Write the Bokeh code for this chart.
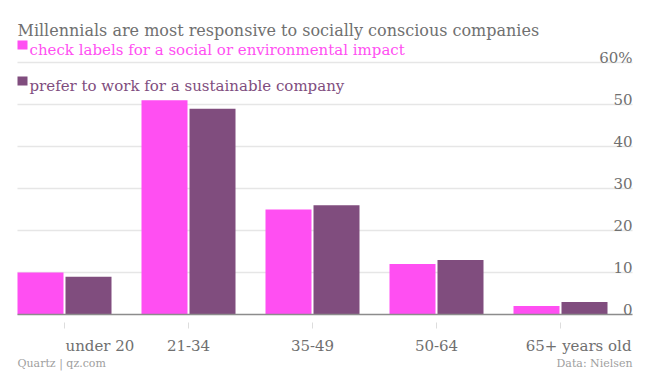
from bokeh.plotting import figure
from bokeh.models import Range1d
from bokeh.core.properties import value
from bokeh.embed import file_html
from bokeh.resources import INLINE

# ---- data ----
categories = ["under 20", "21-34", "35-49", "50-64", "65+ years old"]
check_labels = [10, 51, 25, 12, 2]
prefer_sustainable = [9, 49, 26, 13, 3]
y_ticks = [0, 10, 20, 30, 40, 50, 60]
y_tick_labels = ["0", "10", "20", "30", "40", "50", "60%"]
title = "Millennials are most responsive to socially conscious companies"
series_names = ["check labels for a social or environmental impact",
                "prefer to work for a sustainable company"]
source_left = "Quartz | qz.com"
source_right = "Data: Nielsen"

PINK = "#ff4ff2"
PURPLE = "#804d7e"
FONT = value("DejaVu Serif")

# ---- layout (page pixels -> data coords) ----
W, H = 650, 372
ORIGIN = 0          # page offset of the figure as photographed
CAT_PX = 124.0      # pixels per category
X0_PX = 64.0        # page x of first category centre
Y0_PX = 314.0       # page y of zero
UNIT_PX = 4.2       # pixels per percentage point


def sx(px):
    return (px - X0_PX) / CAT_PX


def sy(py):
    return (Y0_PX - py) / UNIT_PX


p = figure(width=W, height=H, output_backend="svg", toolbar_location=None,
           x_range=Range1d(sx(ORIGIN), sx(ORIGIN + W)),
           y_range=Range1d(sy(ORIGIN + H), sy(ORIGIN)),
           min_border=0, x_axis_location=None, y_axis_location=None)
p.outline_line_color = None
p.xgrid.visible = False
p.ygrid.visible = False
p.background_fill_color = "white"
p.border_fill_color = "white"

idx = list(range(len(categories)))
bar_w = 46 / CAT_PX
off = 24 / CAT_PX

# gridlines
grid_vals = [v for v in y_ticks if v != 0]
p.segment(x0=[sx(17)] * len(grid_vals), x1=[sx(632)] * len(grid_vals),
          y0=grid_vals, y1=grid_vals, line_color="#e6e6e6", line_width=1.5)

# bars
p.vbar(x=[i - off for i in idx], top=check_labels, bottom=0, width=bar_w,
       fill_color=PINK, line_color=None)
p.vbar(x=[i + off for i in idx], top=prefer_sustainable, bottom=0, width=bar_w,
       fill_color=PURPLE, line_color=None)

# zero line
p.segment(x0=[sx(17)], x1=[sx(632)], y0=[0], y1=[0], line_color="#8c8c8c", line_width=1.5)

# x tick marks
p.segment(x0=idx, x1=idx, y0=[sy(322)] * len(idx), y1=[sy(328)] * len(idx),
          line_color="#dddddd", line_width=1)

# y tick labels
p.text(x=[sx(632)] * len(y_ticks), y=[v + 5 / UNIT_PX for v in y_ticks], text=y_tick_labels,
       text_font=FONT, text_font_size="15px", text_color="#707070",
       text_align="right", text_baseline="alphabetic")

# x labels
n = len(categories)
aligns = ["left"] + ["center"] * (n - 2) + ["right"]
xs = [sx(65)] + [float(i) for i in idx[1:-1]] + [sx(631)]
for x, t, a in zip(xs, categories, aligns):
    p.text(x=[x], y=[sy(345)], text=[t], text_font=FONT, text_font_size="15px",
           text_color="#707070", text_align=a, text_baseline="alphabetic")

# title
p.text(x=[sx(17)], y=[sy(30)], text=[title], text_font=FONT, text_font_size="16px",
       text_color="#707070", text_align="left", text_baseline="alphabetic")

# legend
p.quad(left=[sx(17), sx(17)], right=[sx(27), sx(27)], top=[sy(40), sy(76)],
       bottom=[sy(49), sy(85)], fill_color=[PINK, PURPLE], line_color=None)
p.text(x=[sx(29)], y=[sy(49)], text=[series_names[0]], text_font=FONT, text_font_size="15px",
       text_color=PINK, text_align="left", text_baseline="alphabetic")
p.text(x=[sx(29)], y=[sy(85)], text=[series_names[1]], text_font=FONT, text_font_size="15px",
       text_color=PURPLE, text_align="left", text_baseline="alphabetic")

# footer
p.text(x=[sx(17)], y=[sy(363)], text=[source_left], text_font=FONT, text_font_size="11px",
       text_color="#a0a0a0", text_align="left", text_baseline="alphabetic")
p.text(x=[sx(632)], y=[sy(363)], text=[source_right], text_font=FONT, text_font_size="11px",
       text_color="#a0a0a0", text_align="right", text_baseline="alphabetic")

open("out.html", "w").write(file_html(p, INLINE))
